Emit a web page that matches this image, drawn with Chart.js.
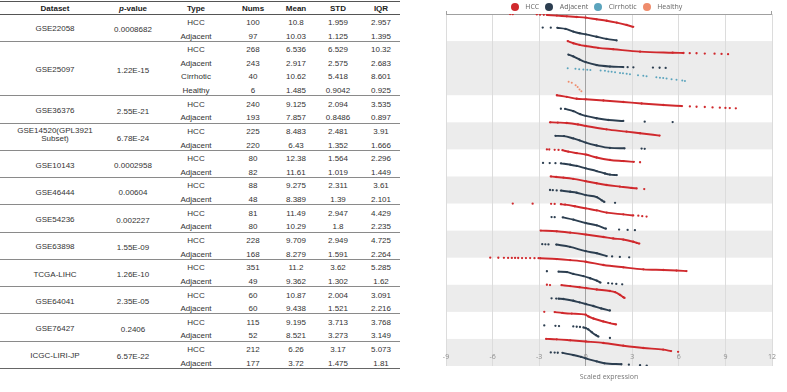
<!DOCTYPE html>
<html><head><meta charset="utf-8">
<script src="https://cdn.jsdelivr.net/npm/chart.js@4.4.1/dist/chart.umd.min.js"></script>
<style>
html,body{margin:0;padding:0;background:#fff;width:787px;height:392px;overflow:hidden;}
#tbl{position:absolute;left:0;top:0;width:400px;height:392px;font-family:"Liberation Sans",Arial,sans-serif;font-size:8px;color:#333;}
.cell{position:absolute;transform:translate(-50%,-50%);white-space:nowrap;text-align:center;line-height:9px;}
.dcell{position:absolute;transform:translate(-50%,-100%);text-align:center;line-height:7.2px;width:96px;white-space:normal;}
.hd{font-weight:bold;color:#222;}
.ln{position:absolute;left:0;width:400px;height:1px;background:#808080;}
#chartWrap{position:absolute;left:410px;top:0;width:377px;height:392px;}
#legend{position:absolute;left:410px;top:1px;width:373px;height:11px;display:flex;justify-content:center;align-items:center;gap:6px;font-family:"Open Sans",sans-serif;font-size:7px;color:#666;}
.li{display:flex;align-items:center;}
.dot{width:8px;height:8px;border-radius:50%;margin-right:6.5px;}
</style>
</head><body>
<div id="tbl"></div>
<div id="chartWrap"><canvas id="c"></canvas></div>
<div id="legend"></div>
<script>
// ---------- table data ----------
const datasetNames = ['GSE22058','GSE25097','GSE36376','GSE14520(GPL3921 Subset)','GSE10143','GSE46444','GSE54236','GSE63898','TCGA-LIHC','GSE64041','GSE76427','ICGC-LIRI-JP'];
const pValues = ['0.0008682','1.22E-15','2.55E-21','6.78E-24','0.0002958','0.00604','0.002227','1.55E-09','1.26E-10','2.35E-05','0.2406','6.57E-22'];
const groupTypes = [['HCC','Adjacent'],['HCC','Adjacent','Cirrhotic','Healthy'],['HCC','Adjacent'],['HCC','Adjacent'],['HCC','Adjacent'],['HCC','Adjacent'],['HCC','Adjacent'],['HCC','Adjacent'],['HCC','Adjacent'],['HCC','Adjacent'],['HCC','Adjacent'],['HCC','Adjacent']];
const nums  = [100,97, 268,243,40,6, 240,193, 225,220, 80,82, 88,48, 81,80, 228,168, 351,49, 60,60, 115,52, 212,177];
const means = [10.8,10.03, 6.536,2.917,10.62,1.485, 9.125,7.857, 8.483,6.43, 12.38,11.61, 9.275,8.389, 11.49,10.29, 9.709,8.279, 11.2,9.362, 10.87,9.438, 9.195,8.521, 6.26,3.72];
const stds  = [1.959,1.125, 6.529,2.575,5.418,0.9042, 2.094,0.8486, 2.481,1.352, 1.564,1.019, 2.311,1.39, 2.947,1.8, 2.949,1.591, 3.62,1.302, 2.004,1.521, 3.713,3.273, 3.17,1.475];
const iqrs  = [2.957,1.395, 10.32,2.683,8.601,0.925, 3.535,0.897, 3.91,1.666, 2.296,1.449, 3.61,2.101, 4.429,2.235, 4.725,2.264, 5.285,1.62, 3.091,2.216, 3.768,3.149, 5.073,1.81];

// ---------- series ----------
const typeNames  = ['HCC','Adjacent','Cirrhotic','Healthy'];
const typeColors = ['#d0292d','#2c3e50','#5ba4bd','#ef8c6c'];

// each entry: [value, rank fraction] = isolated point, or a list of them = dense run
const p_GSE22058_HCC = [[-4.87,0],[-4.7,0.01],[-3.15,0.03],[-2.94,0.05],[-2.7,0.06],[[-2.5,0.07],[-1.86,0.12],[-1.22,0.17],[-0.58,0.22],[0,0.27],[0.7,0.39],[1.35,0.5],[2.0,0.64],[2.64,0.81],[3.06,0.95]]];
const p_GSE22058_Adj = [[-2.77,0],[-2.25,0.01],[[-1.83,0.02],[-1.3,0.1],[-0.8,0.3],[-0.4,0.42],[0,0.5],[0.7,0.68],[1.34,0.84],[1.99,0.95]]];
const p_GSE25097_HCC = [[[-1.16,0],[-0.8,0.16],[-0.4,0.28],[0,0.36],[0.8,0.5],[1.77,0.6],[3.5,0.78],[5.6,0.86],[6.3,0.88]],[6.7,0.89],[7.14,0.9],[7.67,0.92],[8.3,0.93],[8.75,0.95],[9.17,0.97]];
const p_GSE25097_Adj = [[[-1.12,0],[-0.8,0.13],[-0.4,0.36],[0,0.56],[0.7,0.77],[1.56,0.88],[2.42,0.92]],[2.7,0.93],[3.07,0.94],[4.33,0.96],[4.76,0.97],[5.15,0.98]];
const p_GSE25097_Cir = [[-1.16,0],[-0.66,0.05],[-0.42,0.08],[-0.15,0.1],[0.1,0.12],[0.3,0.14],[0.96,0.18],[1.24,0.2],[1.46,0.24],[1.67,0.27],[1.89,0.3],[2.21,0.35],[2.4,0.38],[2.64,0.42],[2.85,0.45],[3.37,0.52],[3.71,0.56],[3.92,0.6],[4.55,0.67],[4.78,0.7],[4.99,0.73],[5.21,0.77],[5.53,0.82],[5.85,0.86],[6.22,0.92],[6.39,0.95]];
const p_GSE25097_Hea = [[-1.1,0],[-0.9,0.08],[-0.65,0.26],[-0.52,0.4],[-0.4,0.58],[-0.28,0.7]];
const p_GSE36376_HCC = [[[-1.86,0],[-1.22,0.12],[-0.58,0.26],[0,0.3],[1.14,0.39],[2.42,0.5],[3.6,0.61],[5.0,0.72],[6.2,0.8]],[6.71,0.83],[7.14,0.85],[7.67,0.87],[8.17,0.9],[8.64,0.92],[9.0,0.94],[9.28,0.95],[9.67,0.97]];
const p_GSE36376_Adj = [[-1.6,0],[[-1.33,0.01],[-0.8,0.18],[-0.36,0.4],[0,0.53],[0.7,0.7],[1.46,0.83],[2.42,0.9]],[3.8,0.95],[5.6,0.98]];
const p_GSE14520_HCC = [[[-2.3,0],[-1.8,0.02],[-1.22,0.05],[-0.5,0.16],[0,0.27],[1.34,0.52],[2.63,0.69],[3.5,0.81],[4.76,0.98]]];
const p_GSE14520_Adj = [[[-1.95,0],[-1.4,0.02],[-0.8,0.19],[-0.4,0.33],[0,0.5],[0.7,0.71],[1.56,0.89],[2.5,0.92]],[3.6,0.94],[3.8,0.96]];
const p_GSE10143_HCC = [[-2.5,0],[-2.35,0.01],[-2.0,0.03],[-1.75,0.04],[[-1.5,0.06],[-1.12,0.17],[-0.58,0.28],[0,0.38],[0.7,0.6],[1.56,0.78],[2.42,0.86],[3.1,0.92]],[3.5,0.95]];
const p_GSE10143_Adj = [[-2.75,0],[-2.32,0.01],[-1.95,0.02],[[-1.6,0.03],[-1.0,0.13],[-0.58,0.22],[0,0.4],[0.7,0.6],[1.24,0.78],[1.56,0.86],[2.0,0.9]]];
const p_GSE46444_HCC = [[[-2.25,0],[-1.9,0.04],[-1.44,0.09],[-0.8,0.18],[0,0.35],[0.7,0.5],[1.34,0.63],[2.2,0.75],[2.95,0.85],[3.28,0.88]],[3.77,0.93]];
const p_GSE46444_Adj = [[-2.3,0],[-2.12,0.01],[-1.87,0.03],[[-1.6,0.04],[-1.0,0.13],[-0.58,0.2],[0,0.38],[0.71,0.52],[1.03,0.76],[1.2,0.88]],[1.89,0.95]];
const p_GSE54236_HCC = [[-4.7,0],[-3.42,0.01],[-2.23,0.02],[-2.0,0.03],[[-1.6,0.05],[-1.33,0.08],[-0.7,0.2],[0,0.36],[0.71,0.51],[1.35,0.67],[2.42,0.8],[3.06,0.88]],[3.39,0.9],[3.64,0.93],[3.92,0.96]];
const p_GSE54236_Adj = [[-2.2,0],[-2.0,0.01],[[-1.48,0.02],[-0.79,0.19],[0,0.44],[0.71,0.61],[1.3,0.86]],[2.15,0.92],[2.7,0.95],[3.17,0.97]];
const p_GSE63898_HCC = [[[-2.9,0],[-1.87,0.05],[-1.0,0.15],[0,0.29],[1.14,0.47],[1.77,0.58],[2.42,0.66],[3.06,0.82],[3.28,0.9],[3.45,0.96]]];
const p_GSE63898_Adj = [[-2.8,0],[-2.6,0.01],[-2.4,0.02],[[-1.9,0.03],[-1.01,0.2],[0,0.52],[0.71,0.67],[1.35,0.88]],[1.7,0.91],[2.2,0.94],[2.8,0.97]];
const p_TCGA_HCC = [[-6.15,0],[-5.63,0.005],[-5.27,0.01],[-5.0,0.015],[-4.76,0.017],[-4.55,0.02],[-4.35,0.022],[-4.1,0.025],[-3.85,0.028],[-3.58,0.031],[-3.3,0.034],[-3.04,0.037],[[-2.94,0.04],[-1.87,0.1],[-1.0,0.18],[0,0.3],[1.14,0.54],[2.42,0.71],[3.71,0.86],[5.0,0.91],[5.85,0.95],[6.49,0.99]]];
const p_TCGA_Adj = [[-2.5,0],[[-1.75,0.03],[-1.22,0.06],[-0.8,0.2],[-0.15,0.36],[0.28,0.52],[0.71,0.69],[0.95,0.84]],[1.45,0.88],[1.7,0.91],[1.97,0.94],[2.35,0.97]];
const p_GSE64041_HCC = [[-2.5,0],[-2.3,0.02],[[-1.56,0.03],[-1.0,0.1],[-0.4,0.18],[0,0.24],[0.71,0.35],[1.56,0.46],[1.89,0.55],[2.21,0.75],[2.42,0.92],[2.5,0.97]]];
const p_GSE64041_Adj = [[-2.2,0],[-1.9,0.02],[[-1.75,0.03],[-1.44,0.05],[-0.8,0.18],[-0.4,0.3],[0,0.42],[0.49,0.57],[1.0,0.75],[1.56,0.9]]];
const p_GSE76427_HCC = [[-2.67,0],[[-2.0,0.02],[-1.5,0.08],[-0.9,0.13],[0,0.21],[0.17,0.34],[0.49,0.49],[1.13,0.71],[1.56,0.83],[1.95,0.93]]];
const p_GSE76427_Adj = [[-2.67,0],[-1.95,0.03],[-1.72,0.05],[-0.8,0.08],[-0.58,0.1],[-0.37,0.12],[[-0.15,0.15],[0,0.2],[0.17,0.3],[0.39,0.5],[0.66,0.72],[0.82,0.83]],[1.56,0.93]];
const p_ICGC_HCC = [[[-2.55,0],[-1.87,0.03],[-1.0,0.1],[0,0.19],[1.14,0.3],[2.42,0.5],[3.71,0.67],[4.99,0.79],[5.5,0.9]],[5.95,0.95]];
const p_ICGC_Adj = [[-2.25,0],[-2.0,0.01],[-1.8,0.02],[[-1.5,0.03],[-0.8,0.19],[-0.3,0.33],[0,0.44],[0.71,0.66],[1.2,0.8],[2.3,0.87]],[2.78,0.9],[3.5,0.94],[3.93,0.97]];

const rowSeries = [p_GSE22058_HCC,p_GSE22058_Adj,p_GSE25097_HCC,p_GSE25097_Adj,p_GSE25097_Cir,p_GSE25097_Hea,p_GSE36376_HCC,p_GSE36376_Adj,p_GSE14520_HCC,p_GSE14520_Adj,p_GSE10143_HCC,p_GSE10143_Adj,p_GSE46444_HCC,p_GSE46444_Adj,p_GSE54236_HCC,p_GSE54236_Adj,p_GSE63898_HCC,p_GSE63898_Adj,p_TCGA_HCC,p_TCGA_Adj,p_GSE64041_HCC,p_GSE64041_Adj,p_GSE76427_HCC,p_GSE76427_Adj,p_ICGC_HCC,p_ICGC_Adj];
const xTicks = [-9,-6,-3,0,3,6,9,12];

// ---------- table ----------
const rowTypes = groupTypes.flat();
const nRows = rowTypes.length;
const tbl = document.getElementById('tbl');
const TOP = 14, RH = 13.63;
const cols = {ds:55, p:133, type:196, nums:253, mean:296, std:338, iqr:381};
function addCell(txt, x, y, cls){
  const d = document.createElement('div');
  d.className = cls || 'cell';
  d.style.left = x + 'px'; d.style.top = y + 'px';
  if (typeof txt === 'string' || typeof txt === 'number') d.textContent = txt; else d.appendChild(txt);
  tbl.appendChild(d); return d;
}
function addLine(y, color){
  const l = document.createElement('div'); l.className = 'ln';
  l.style.top = y + 'px'; if (color) l.style.background = color; tbl.appendChild(l);
}
const hy = 7.6;
addCell('Dataset', cols.ds, hy, 'cell hd');
const pv = document.createElement('span'); pv.innerHTML = '<i>p</i>-value';
addCell(pv, cols.p, hy, 'cell hd');
addCell('Type', cols.type, hy, 'cell hd');
addCell('Nums', cols.nums, hy, 'cell hd');
addCell('Mean', cols.mean, hy, 'cell hd');
addCell('STD', cols.std, hy, 'cell hd');
addCell('IQR', cols.iqr, hy, 'cell hd');
addLine(0.5, '#555'); addLine(TOP - 0.5, '#555');
for (let r = 0; r < nRows; r++){
  const cy = TOP + RH * (r + 0.5) + 1.1;
  addCell(rowTypes[r], cols.type, cy);
  addCell(String(nums[r]), cols.nums, cy);
  addCell(String(means[r]), cols.mean, cy);
  addCell(String(stds[r]), cols.std, cy);
  addCell(String(iqrs[r]), cols.iqr, cy);
}
let acc = 0;
groupTypes.forEach((g, i) => {
  const cy = TOP + RH * (acc + g.length / 2) + 1.1;
  addCell(datasetNames[i], cols.ds, cy + 3.6, 'dcell');
  addCell(pValues[i], cols.p, cy);
  acc += g.length;
  addLine(TOP + RH * acc - 0.5, acc === nRows ? '#666' : '#8a8a8a');
});

// ---------- legend ----------
const lg = document.getElementById('legend');
typeNames.forEach((n, i) => {
  const it = document.createElement('div'); it.className = 'li';
  const d = document.createElement('span'); d.className = 'dot'; d.style.background = typeColors[i];
  const t = document.createElement('span'); t.textContent = n;
  it.appendChild(d); it.appendChild(t); lg.appendChild(it);
});

// ---------- chart ----------
function toPoints(series, row){
  const out = [];
  series.forEach(el => {
    const run = (typeof el[0] === 'number') ? [el] : el;
    run.forEach(p => out.push({x: p[0], y: row + p[1]}));
    out.push({x: run[run.length - 1][0], y: null});
  });
  return out;
}
const chartDatasets = rowSeries.map((s, r) => {
  const t = rowTypes[r];
  const c = typeColors[typeNames.indexOf(t)];
  const sparse = (t === 'Cirrhotic' || t === 'Healthy');
  return {label: t, data: toPoints(s, r), showLine: true, spanGaps: false,
    borderColor: c, backgroundColor: c, pointBackgroundColor: c, pointBorderWidth: 0,
    pointRadius: sparse ? 1.0 : 1.15, borderWidth: 1.9, cubicInterpolationMode: 'monotone'};
});

const bandPlugin = {
  id: 'bands',
  beforeDraw(chart){
    const {ctx, chartArea: a, scales: {y}} = chart;
    ctx.save();
    let r = 0;
    groupTypes.forEach((g, i) => {
      if (i % 2 === 1){
        const y0 = y.getPixelForValue(r), y1 = y.getPixelForValue(r + g.length);
        ctx.fillStyle = '#ececec';
        ctx.fillRect(a.left, y0, a.right - a.left, y1 - y0);
      }
      r += g.length;
    });
    ctx.restore();
  },
  beforeDatasetsDraw(chart){
    const {ctx, chartArea: a} = chart;
    ctx.save();
    ctx.strokeStyle = '#a0a0a0'; ctx.lineWidth = 1;
    ctx.beginPath();
    ctx.moveTo(a.left, a.top + 0.5); ctx.lineTo(a.right, a.top + 0.5);
    ctx.moveTo(a.left + 0.5, a.top); ctx.lineTo(a.left + 0.5, a.top - 3);
    ctx.moveTo(a.right - 0.5, a.top); ctx.lineTo(a.right - 0.5, a.top - 3);
    ctx.stroke();
    ctx.restore();
  }
};

new Chart(document.getElementById('c'), {
  type: 'scatter',
  data: {datasets: chartDatasets},
  plugins: [bandPlugin],
  options: {
    responsive: true, maintainAspectRatio: false, animation: false,
    layout: {padding: {left: 36, right: 15, top: 14, bottom: 0}},
    plugins: {legend: {display: false}, tooltip: {enabled: false}},
    scales: {
      x: {type: 'linear', min: xTicks[0], max: xTicks[xTicks.length - 1],
        afterBuildTicks: sc => { sc.ticks = xTicks.map(v => ({value: v})); },
        afterFit: sc => { sc.height = 26; },
        ticks: {color: '#8c8c8c', font: {family: 'Open Sans', size: 7}, mirror: true, padding: 4.8, maxRotation: 0, autoSkip: false},
        grid: {color: c => (c.tick && c.tick.value === 0) ? '#a3a3a3' : '#dcdcdc', drawTicks: false, lineWidth: 1},
        border: {display: false},
        title: {display: true, text: 'Scaled expression', color: '#777', font: {family: 'Open Sans', size: 7}, padding: {top: 0, bottom: 10.8}}},
      y: {type: 'linear', min: 0, max: nRows, reverse: true, display: false}
    }
  }
});
</script>
</body></html>
